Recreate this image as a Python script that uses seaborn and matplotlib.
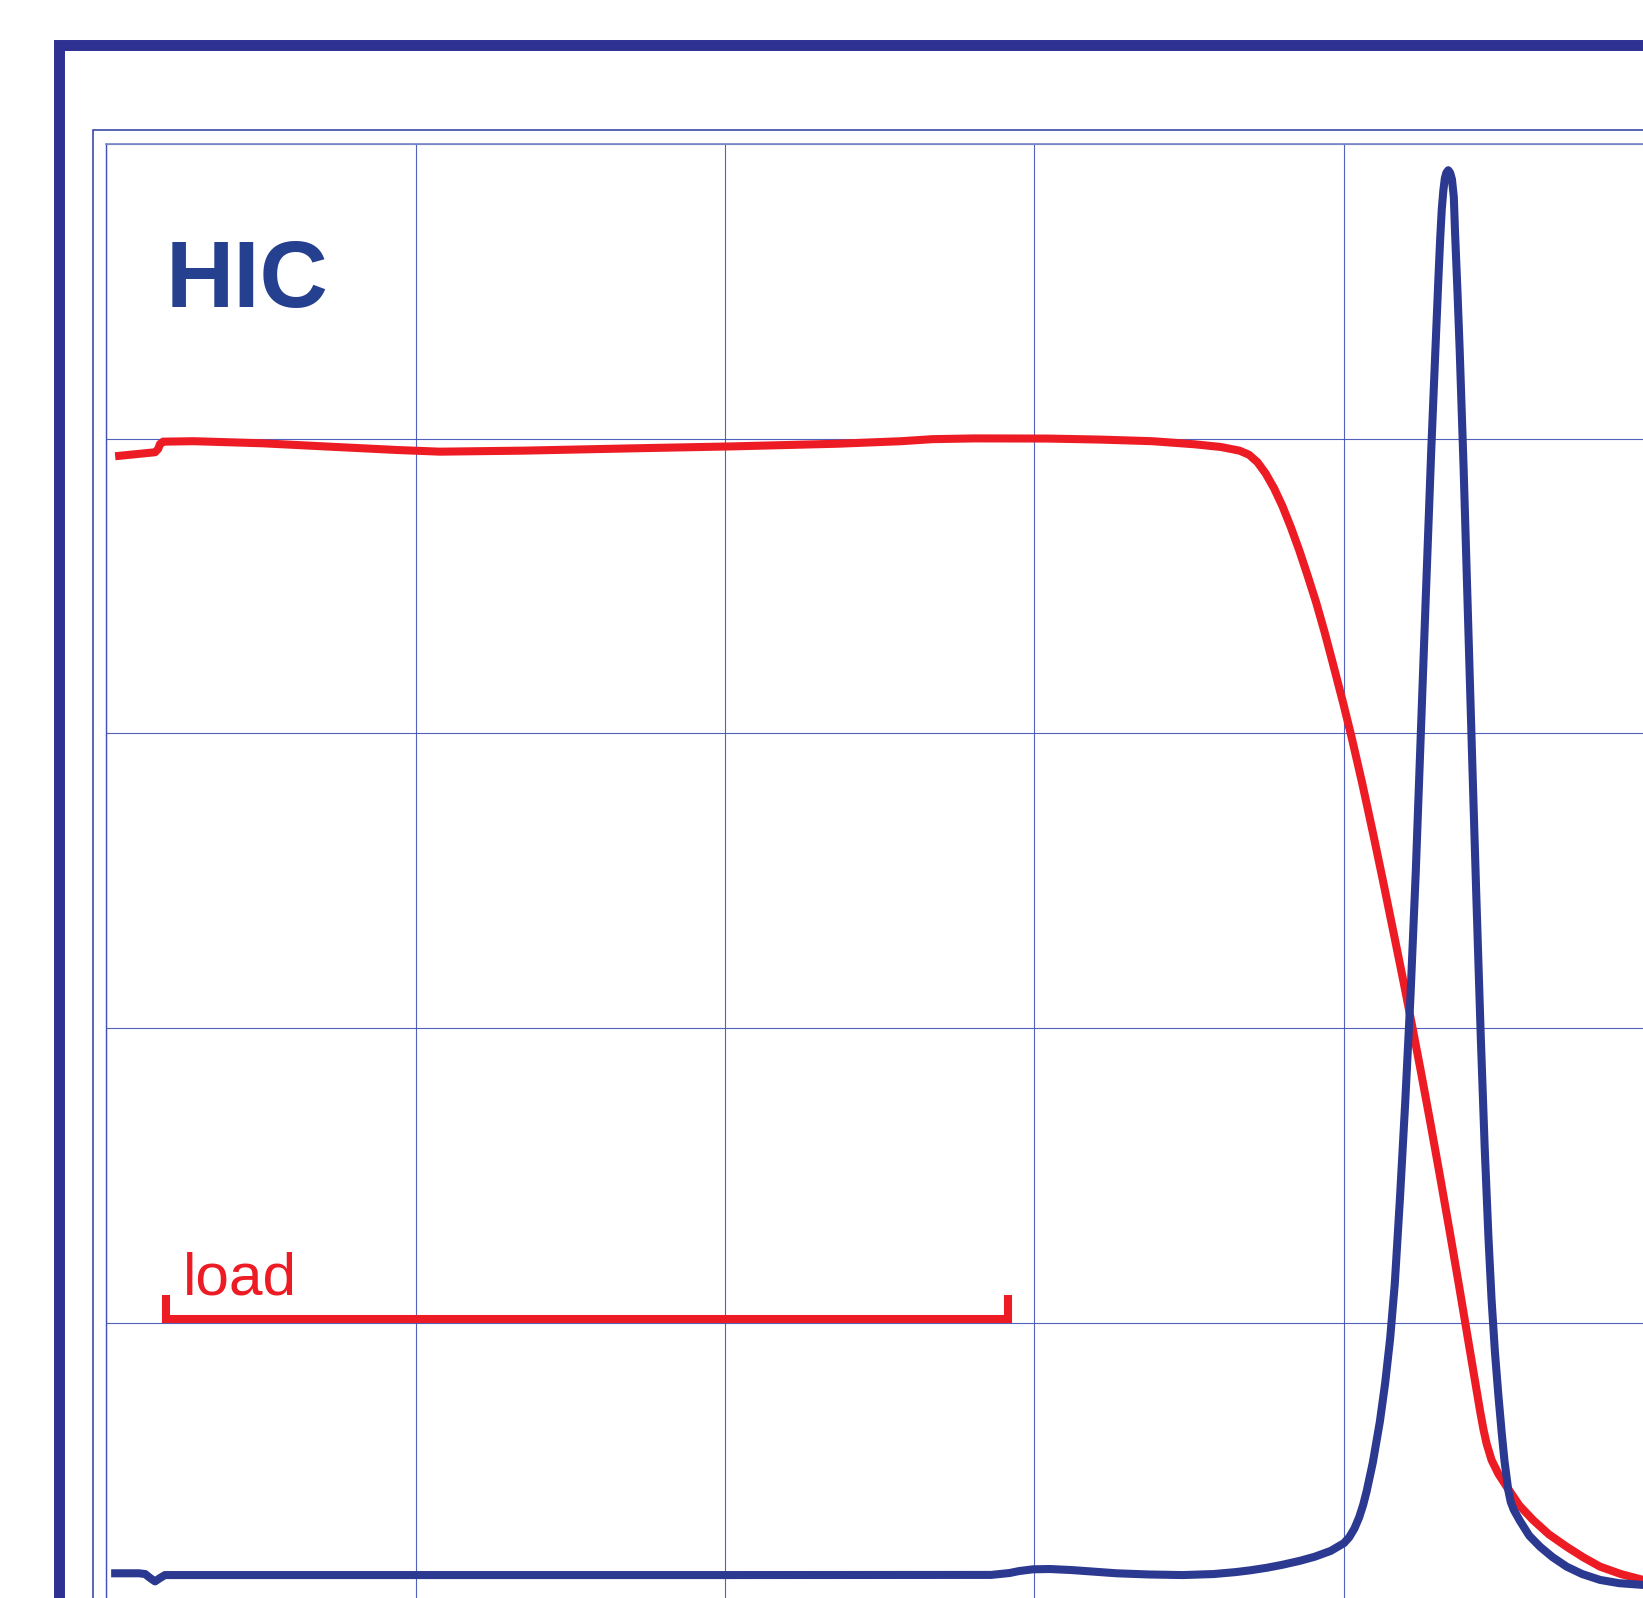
import numpy as np
import pandas as pd
import seaborn as sns
import matplotlib
matplotlib.use("Agg")
from matplotlib import pyplot as plt
from matplotlib.patches import Rectangle

# absorbance trace (blue)
uv_x = [0.15, 1.05, 1.25, 1.41, 1.57, 1.73, 1.89, 3.0, 10.0, 20.0, 28.6, 29.2, 29.5, 29.95,
        30.5, 31.2, 32.0, 32.66, 33.7, 34.8, 35.8, 36.5, 36.97, 37.5, 38.0, 38.59, 39.07,
        39.58, 40.01, 40.18, 40.35, 40.5, 40.63, 40.74, 40.94, 41.17, 41.34, 41.5, 41.65,
        41.82, 41.99, 42.16, 42.33, 42.49, 42.66, 42.83, 42.97, 43.07, 43.12, 43.17, 43.22,
        43.27, 43.32, 43.38, 43.44, 43.5, 43.56, 43.6, 43.68, 43.75, 43.88, 44.02, 44.16,
        44.29, 44.43, 44.56, 44.68, 44.78, 44.89, 45.0, 45.11, 45.2, 45.32, 45.4, 45.5,
        45.7, 46.0, 46.35, 46.75, 47.21, 47.71, 48.29, 48.9, 49.68, 50.5]
uv_y = [3.0, 3.0, 2.95, 2.68, 2.45, 2.68, 2.88, 2.88, 2.88, 2.88, 2.89, 3.02, 3.15, 3.27,
        3.29, 3.22, 3.1, 3.0, 2.92, 2.88, 2.95, 3.08, 3.2, 3.37, 3.57, 3.85, 4.13,
        4.52, 5.05, 5.45, 6.05, 6.8, 7.65, 8.55, 10.5, 13.3, 15.9, 18.9, 22.6,
        28.5, 35.0, 42.2, 50.6, 59.8, 69.6, 79.2, 86.3, 91.28, 93.6, 95.55, 96.8,
        97.68, 98.05, 98.22, 98.05, 97.6, 96.4, 94.0, 89.9, 86.0, 77.8, 67.8, 57.8,
        48.8, 39.5, 31.8, 25.8, 21.6, 18.0, 15.1, 12.5, 10.6, 8.65, 7.85, 7.3,
        6.55, 5.55, 4.8, 4.1, 3.45, 2.95, 2.55, 2.33, 2.21, 2.12]

# salt gradient (red)
salt_x = [0.28, 1.57, 1.67, 1.73, 1.83, 2.82, 5.03, 7.4, 9.43, 10.78, 13.5, 16.88, 20.27,
          23.66, 25.69, 26.71, 28.06, 30.43, 32.13, 33.82, 35.18, 36.02, 36.63, 36.94, 37.21,
          37.48, 37.75, 38.02, 38.29, 38.56, 38.83, 39.11, 39.38, 39.65, 39.99, 40.26, 40.6,
          40.94, 41.27, 41.61, 41.9, 42.19, 42.5, 42.8, 43.1, 43.41, 43.73, 44.05, 44.25,
          44.41, 44.52, 44.62, 44.78, 45.0, 45.27, 45.68, 46.12, 46.63, 47.21, 47.75, 48.29,
          48.96, 49.68, 50.5]
salt_y = [78.81, 79.08, 79.3, 79.64, 79.8, 79.83, 79.69, 79.44, 79.23, 79.12, 79.19, 79.34,
          79.48, 79.66, 79.83, 79.97, 80.02, 80.01, 79.94, 79.83, 79.62, 79.44, 79.19, 78.91,
          78.41, 77.63, 76.63, 75.42, 74.0, 72.44, 70.73, 68.88, 66.89, 64.75, 62.0, 59.7, 56.6,
          53.3, 50.0, 46.5, 43.5, 40.4, 37.0, 33.6, 30.1, 26.4, 22.5, 18.5, 16.0,
          14.0, 12.75, 11.8, 10.69, 9.75, 8.88, 7.6, 6.62, 5.65, 4.8, 4.08, 3.45,
          2.95, 2.55, 2.35]

load_start = 1.91
load_end = 29.14
load_level = 20.28
load_tick = 21.9

BLUE = "#2B3990"
RED = "#ED1C24"
GRID = "#3F51B5"
LW = 5.8

sns.set_theme(style="white")
plt.rcParams["font.family"] = ["Liberation Sans", "DejaVu Sans"]

fig = plt.figure(figsize=(16.43, 15.98), dpi=100)
ax = fig.add_axes([0.06482, -0.012203, 1.12952, 0.92209])
ax.set_xlim(0, 60)
ax.set_ylim(0, 100)
ax.set_xticks(np.arange(0, 61, 10))
ax.set_yticks(np.arange(0, 101, 20))
ax.set_xticklabels([])
ax.set_yticklabels([])
ax.tick_params(length=0)
ax.grid(True, color=GRID, lw=0.8, alpha=0.9)
ax.set_axisbelow(True)
ax.spines["left"].set_color(GRID)
ax.spines["left"].set_linewidth(1.0)
ax.spines["top"].set_color("#7F8CC8")
ax.spines["top"].set_linewidth(1.3)

salt = pd.DataFrame({"x": salt_x, "y": salt_y})
uv = pd.DataFrame({"x": uv_x, "y": uv_y})
sns.lineplot(data=salt, x="x", y="y", ax=ax, color=RED, linewidth=LW, estimator=None, sort=False,
             solid_capstyle="butt", solid_joinstyle="round")
sns.lineplot(data=uv, x="x", y="y", ax=ax, color=BLUE, linewidth=LW, estimator=None, sort=False,
             solid_capstyle="butt", solid_joinstyle="round")
ax.set_xlabel("")
ax.set_ylabel("")

# load bracket
ax.plot([load_start, load_start, load_end, load_end], [load_tick, load_level, load_level, load_tick],
        color=RED, lw=LW, solid_capstyle="butt", solid_joinstyle="miter")
ax.text(2.48, 21.89, "load", color=RED, fontsize=43.5, ha="left", va="baseline")
ax.text(1.9, 88.96, "HIC", color="#24408E", fontsize=68, fontweight="bold", ha="left", va="baseline")

# frames around the plot
fig.add_artist(Rectangle((0.03561, -0.5), 2, 0.97165 + 0.5, transform=fig.transFigure,
                         fill=False, ec="#2E3192", lw=7.9))
fig.add_artist(Rectangle((0.05672, -0.5), 2, 0.91852 + 0.5, transform=fig.transFigure,
                         fill=False, ec="#3A4BA8", lw=1.2))

fig.savefig("out.png", dpi=100)
